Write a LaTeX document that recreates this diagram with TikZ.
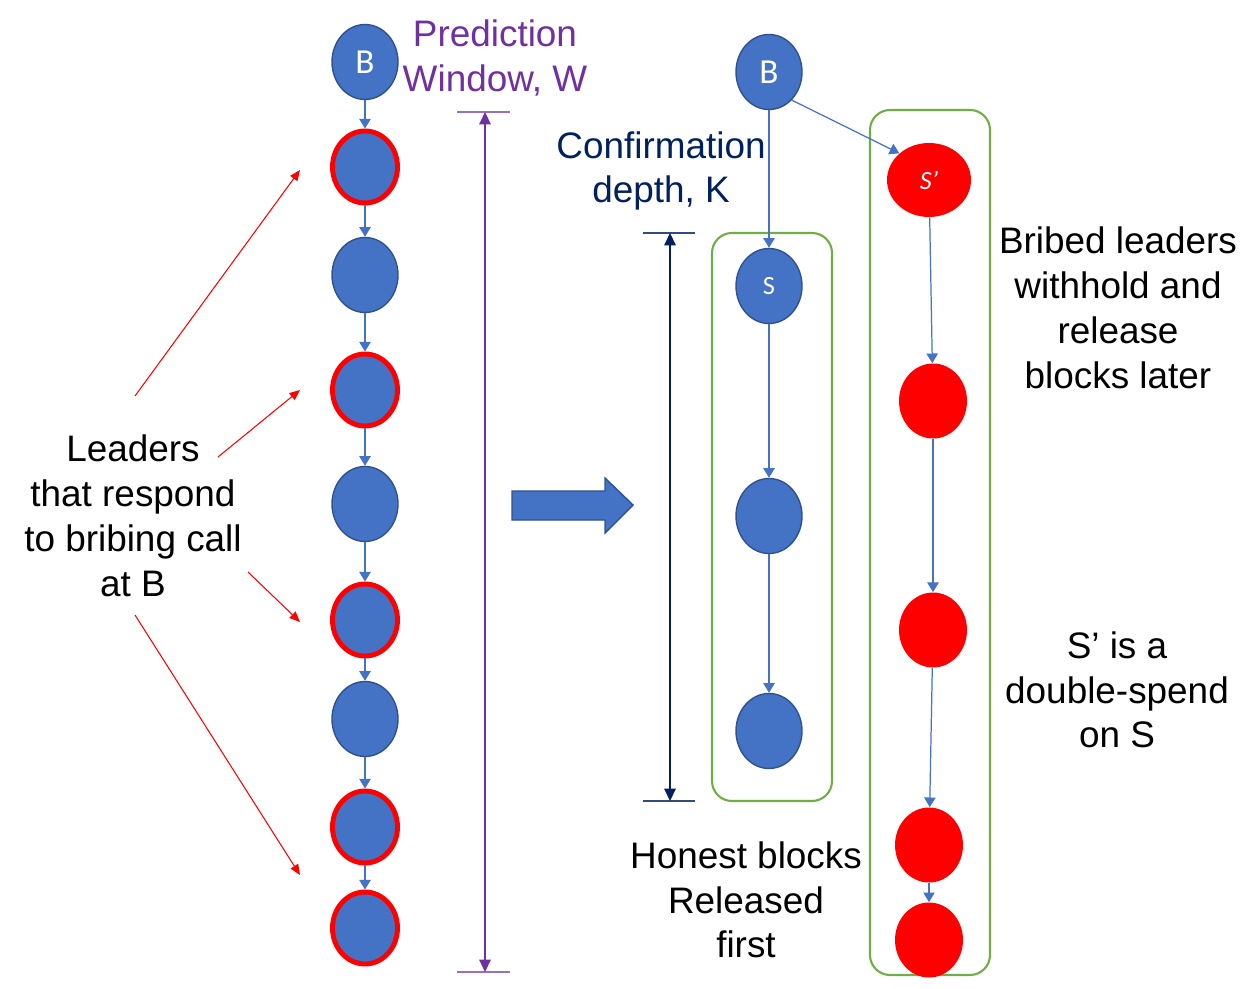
\documentclass[tikz,border=0pt]{standalone}
\usepackage{fontspec}
\setmainfont{Liberation Sans}
\newfontfamily\blockfont{Carlito}
\usetikzlibrary{shapes.geometric, arrows.meta, positioning}
\definecolor{cBlock}{RGB}{68, 114, 196}
\definecolor{bBlock}{RGB}{47, 82, 143}
\definecolor{cBribe}{RGB}{255, 0, 0}
\definecolor{bGroup}{RGB}{112, 173, 71}
\definecolor{tWindow}{RGB}{112, 48, 160}
\definecolor{tDepth}{RGB}{0, 32, 96}

\begin{document}
\begin{tikzpicture}[
    x=0.02cm, y=-0.02cm,
    block/.style={
        ellipse,
        fill=cBlock,
        draw=bBlock,
        line width=0.8pt,
        minimum width=1.32cm,
        minimum height=1.5cm,
        inner sep=0pt,
        text=white,
        font=\blockfont\fontsize{20}{22}\selectfont
    },
    leader/.style={block, draw=cBribe, line width=2.8pt, minimum width=1.3cm, minimum height=1.44cm},
    bribed/.style={
        ellipse,
        fill=cBribe,
        minimum width=1.36cm,
        minimum height=1.5cm,
        inner sep=0pt,
        text=white,
        font=\blockfont\fontsize{15}{17}\selectfont
    },
    link/.style={-{Triangle[width=6.5pt, length=5.5pt]}, line width=0.7pt, color=cBlock},
    pointer/.style={-{Triangle[width=5pt, length=6pt]}, line width=0.6pt, color=cBribe},
    measure/.style={{Triangle[width=6.5pt, length=7pt]}-{Triangle[width=6.5pt, length=7pt]}, line width=0.8pt},
    group/.style={draw=bGroup, line width=1.2pt, rounded corners=0.4cm},
    caption/.style={align=center, inner sep=0pt, font=\fontsize{21}{25.5}\selectfont}
]

\useasboundingbox (0,0) rectangle (1260,989);

% Left chain: leaders after B
\node[block] (bL) at (365, 62) {B};
\node[leader] (l1) at (365, 167) {};
\node[block]  (l2) at (365, 275) {};
\node[leader] (l3) at (365, 390) {};
\node[block]  (l4) at (365, 504) {};
\node[leader] (l5) at (365, 620) {};
\node[block]  (l6) at (365, 719) {};
\node[leader] (l7) at (365, 827) {};
\node[leader] (l8) at (365, 928) {};

\draw[link] (bL) -- (l1);
\draw[link] (l1) -- (l2);
\draw[link] (l2) -- (l3);
\draw[link] (l3) -- (l4);
\draw[link] (l4) -- (l5);
\draw[link] (l5) -- (l6);
\draw[link] (l6) -- (l7);
\draw[link] (l7) -- (l8);

\node[caption] (leaders) at (133, 516) {Leaders\\that respond\\to bribing call\\at B};

\coordinate (p1s) at (135, 396); \coordinate (p1e) at (300, 170);
\coordinate (p2s) at (218, 457); \coordinate (p2e) at (300, 390);
\coordinate (p3s) at (248, 572); \coordinate (p3e) at (300, 622);
\coordinate (p4s) at (135, 615); \coordinate (p4e) at (300, 875);
\draw[pointer] (p1s) -- (p1e);
\draw[pointer] (p2s) -- (p2e);
\draw[pointer] (p3s) -- (p3e);
\draw[pointer] (p4s) -- (p4e);

% Prediction window
\node[caption, text=tWindow] (predict) at (495, 58) {Prediction\\Window, W};
\coordinate (wTop) at (485, 112);
\coordinate (wBot) at (485, 972);
\draw[tWindow!70, line width=0.8pt] ([xshift=-0.56cm]wTop) -- ([xshift=0.5cm]wTop);
\draw[tWindow!70, line width=0.8pt] ([xshift=-0.56cm]wBot) -- ([xshift=0.5cm]wBot);
\draw[measure, color=tWindow] (wTop) -- (wBot);

% Big arrow
\draw[fill=cBlock, draw=bBlock, line width=0.8pt]
    (512, 491) -- (605, 491) -- (605, 478) -- (633, 505) -- (605, 533) -- (605, 520) -- (512, 520) -- cycle;

% Confirmation depth
\node[caption, text=tDepth] (confirm) at (661, 171) {Confirmation\\depth, K};
\coordinate (kTop) at (670, 233);
\coordinate (kBot) at (670, 801);
\draw[tDepth!80, line width=0.8pt] ([xshift=-0.54cm]kTop) -- ([xshift=0.5cm]kTop);
\draw[tDepth!80, line width=0.8pt] ([xshift=-0.54cm]kBot) -- ([xshift=0.5cm]kBot);
\draw[measure, color=tDepth] (kTop) -- (kBot);

% Right: honest chain and withheld chain
\draw[group] (712, 233) rectangle (832, 801);
\draw[group] (870, 110) rectangle (990, 975);

\node[block] (bR) at (769, 72) {B};
\node[block, font=\blockfont\fontsize{15}{17}\selectfont] (s) at (769, 286) {S};
\node[block] (h2) at (769, 516) {};
\node[block] (h3) at (769, 731) {};

\node[bribed, minimum width=1.68cm, minimum height=1.48cm] (sp) at (929, 180) {\itshape S’};
\node[bribed] (r1) at (933, 401) {};
\node[bribed] (r2) at (933, 630) {};
\node[bribed] (r3) at (929, 845) {};
\node[bribed] (r4) at (929, 940) {};

\draw[link] (bR) -- (s);
\draw[link] (s) -- (h2);
\draw[link] (h2) -- (h3);
\draw[link] (bR.-51) -- (sp.138);
\draw[link] (sp) -- (r1);
\draw[link] (r1) -- (r2);
\draw[link] (r2) -- (r3);
\draw[link] (r3) -- (r4);

\node[caption] (bribedTxt) at (1118, 308) {Bribed leaders\\withhold and\\release\\blocks later};
\node[caption] (dspend) at (1117, 690) {S’ is a\\double-spend\\on S};
\node[caption] (honest) at (746, 900) {Honest blocks\\Released\\first};

\end{tikzpicture}
\end{document}
